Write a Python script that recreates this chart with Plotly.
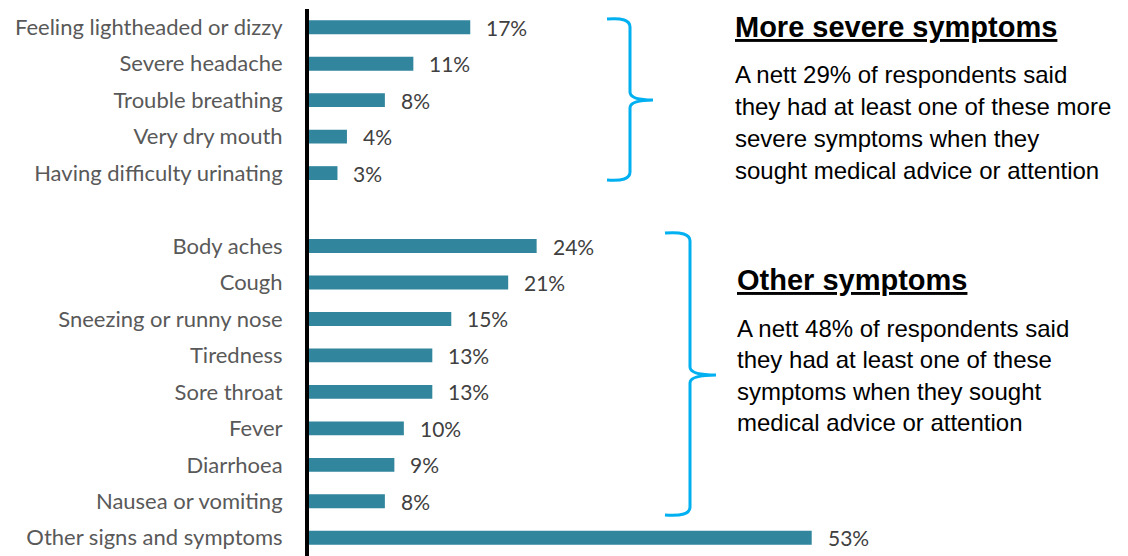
import plotly.graph_objects as go

# Symptom categories, top to bottom (an empty slot separates the two groups)
severe_labels = ["Feeling lightheaded or dizzy", "Severe headache", "Trouble breathing",
                 "Very dry mouth", "Having difficulty urinating"]
severe_values = [17, 11, 8, 4, 3]

other_labels = ["Body aches", "Cough", "Sneezing or runny nose", "Tiredness", "Sore throat",
                "Fever", "Diarrhoea", "Nausea or vomiting", "Other signs and symptoms"]
other_values = [24, 21, 15, 13, 13, 10, 9, 8, 53]

labels = severe_labels + [""] + other_labels
values = severe_values + [None] + other_values
rows = list(range(len(labels)))

W, H = 1128, 556
ML, MT = 309, 9
PW, PH = W - ML, H - MT
PX_PER_PCT = 9.485
XMAX = PW / PX_PER_PCT

BAR = "#31859C"
BLUE = "#00B0F0"
GREY = "#595959"


def px(x):
    return (x - ML) / PW


def py(y):
    return 1 - (y - MT) / PH


bar_rows = [r for r, v in zip(rows, values) if v is not None]
bar_vals = [v for v in values if v is not None]

fig = go.Figure(go.Bar(
    x=bar_vals, y=bar_rows, orientation="h",
    marker=dict(color=BAR, line=dict(width=0)),
    width=0.38, hoverinfo="skip",
))

# value labels at the bar ends
for r, v in zip(bar_rows, bar_vals):
    fig.add_annotation(x=v, y=r, xref="x", yref="y", text=f"{v}%", showarrow=False,
                       xanchor="left", yanchor="middle", xshift=14,
                       font=dict(family="Lato", size=21, color="#404040"))


def brace(x_edge, x_tip, y_top, y_mid, y_bot, hook=23):
    xl = x_edge - hook
    return (f"M {px(xl)},{py(y_top)} "
            f"Q {px(x_edge)},{py(y_top - 2)} {px(x_edge)},{py(y_top + 8)} "
            f"L {px(x_edge)},{py(y_mid - 8)} "
            f"Q {px(x_edge)},{py(y_mid)} {px(x_tip)},{py(y_mid)} "
            f"Q {px(x_edge)},{py(y_mid)} {px(x_edge)},{py(y_mid + 8)} "
            f"L {px(x_edge)},{py(y_bot - 8)} "
            f"Q {px(x_edge)},{py(y_bot + 2)} {px(xl)},{py(y_bot)}")


fig.add_shape(type="path", xref="paper", yref="paper",
              path=brace(630, 653, 19, 100, 180),
              line=dict(color=BLUE, width=3))
fig.add_shape(type="path", xref="paper", yref="paper",
              path=brace(690, 716, 233, 375, 515, hook=25),
              line=dict(color=BLUE, width=3))

HEAD = dict(family="Liberation Sans", size=29, color="black", weight="bold", lineposition="under")
BODY = dict(family="Liberation Sans", size=24, color="black")


def text_block(x, y_head, heading, lines, y_first, step):
    fig.add_annotation(x=px(x), y=py(y_head), xref="paper", yref="paper", text=heading,
                       showarrow=False, xanchor="left", yanchor="middle", font=HEAD)
    for i, line in enumerate(lines):
        fig.add_annotation(x=px(x), y=py(y_first + i * step), xref="paper", yref="paper",
                           text=line, showarrow=False, xanchor="left", yanchor="middle",
                           font=BODY)


text_block(733, 27, "More severe symptoms",
           ["A nett 29% of respondents said",
            "they had at least one of these more",
            "severe symptoms when they",
            "sought medical advice or attention"], 75, 31.7)
text_block(735, 280, "Other symptoms",
           ["A nett 48% of respondents said",
            "they had at least one of these",
            "symptoms when they sought",
            "medical advice or attention"], 328, 31.5)

fig.update_layout(
    width=W, height=H,
    margin=dict(l=ML, r=0, t=MT, b=0),
    paper_bgcolor="white", plot_bgcolor="white",
    showlegend=False,
    xaxis=dict(range=[0, XMAX], visible=False, fixedrange=True),
    yaxis=dict(
        range=[len(labels) - 0.5, -0.5],
        tickvals=rows, ticktext=labels,
        showline=True, linecolor="black", linewidth=4,
        showgrid=False, zeroline=False, ticks="",
        ticklabelstandoff=18,
        tickfont=dict(family="Lato", size=22, color=GREY),
        fixedrange=True,
    ),
)

fig.write_html("out.html")
